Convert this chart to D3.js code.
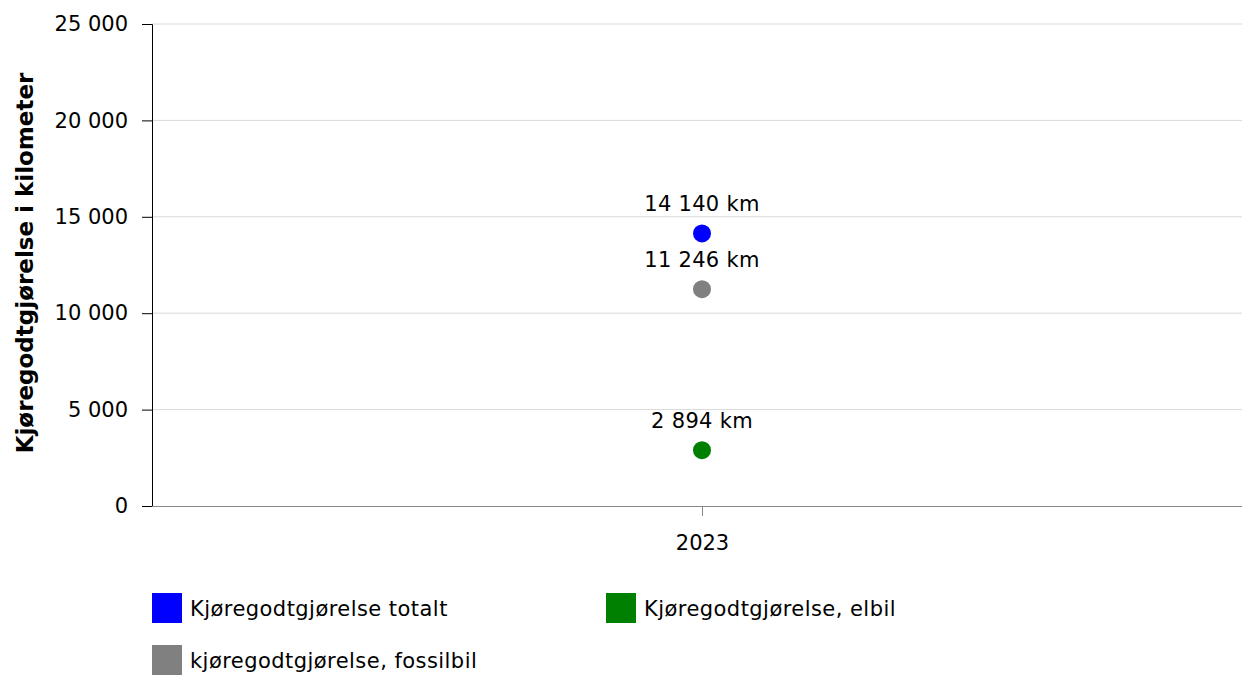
<!DOCTYPE html>
<html>
<head>
<meta charset="utf-8">
<script src="https://cdn.jsdelivr.net/npm/d3@7"></script>
<style>
  body { margin: 0; background: #fff; }
  svg { font-family: "DejaVu Sans", Verdana, sans-serif; }
</style>
</head>
<body>
<svg id="chart" width="1242" height="675"></svg>
<script>
// data
const years = ['2023'];
const seriesNames = ['Kjøregodtgjørelse totalt', 'Kjøregodtgjørelse, elbil', 'kjøregodtgjørelse, fossilbil'];
const seriesColors = ['#0000ff', '#008000', '#808080'];
const seriesValues = [[14140], [2894], [11246]];
const yTicks = [0, 5000, 10000, 15000, 20000, 25000];

const FONT = '"DejaVu Sans", Verdana, sans-serif';
const FS = 21;

const svg = d3.select('#chart');
const margin = { top: 24, right: -10, bottom: 169, left: 152 };
const width = 1242 - margin.left - margin.right;
const height = 675 - margin.top - margin.bottom;

const fmt = v => d3.format(',')(v).replace(/,/g, ' ');

const x = d3.scalePoint().domain(years).range([0, width]).padding(0.5);
const y = d3.scaleLinear().domain([0, 25000]).range([height, 0]);

const g = svg.append('g').attr('transform', `translate(${margin.left},${margin.top})`);

// gridlines
g.append('g')
  .selectAll('line')
  .data(yTicks.filter(d => d > 0))
  .join('line')
  .attr('x1', 0).attr('x2', width)
  .attr('y1', d => y(d)).attr('y2', d => y(d))
  .attr('stroke', '#d9d9d9').attr('stroke-width', 1);

// y axis
const yAxis = g.append('g')
  .call(d3.axisLeft(y).tickValues(yTicks).tickFormat(fmt).tickSize(10).tickPadding(14));
yAxis.select('.domain').attr('stroke', '#000').attr('d', `M-10,0.5H0.5V${height}`);
yAxis.selectAll('.tick line').attr('stroke', '#000');
yAxis.selectAll('text').attr('font-size', FS).attr('fill', '#000').attr('font-family', FONT);

// x axis
const xAxis = g.append('g')
  .attr('transform', `translate(0,${height})`)
  .call(d3.axisBottom(x).tickSize(10).tickPadding(19));
xAxis.select('.domain').attr('stroke', '#888').attr('d', `M0,0.5H${width}`);
xAxis.selectAll('.tick line').attr('stroke', '#888');
xAxis.selectAll('text').attr('font-size', FS).attr('fill', '#000').attr('font-family', FONT);

// y axis title
svg.append('text')
  .attr('transform', `translate(33,${margin.top + height / 2 - 2}) rotate(-90)`)
  .attr('text-anchor', 'middle')
  .attr('font-size', 23)
  .attr('font-weight', 'bold')
  .text('Kjøregodtgjørelse i kilometer');

// points and labels
seriesNames.forEach((name, i) => {
  const pts = years.map((yr, j) => ({ yr, v: seriesValues[i][j] }));
  const s = g.append('g');
  s.selectAll('circle')
    .data(pts)
    .join('circle')
    .attr('cx', d => x(d.yr))
    .attr('cy', d => y(d.v))
    .attr('r', 9)
    .attr('fill', seriesColors[i]);
  s.selectAll('text')
    .data(pts)
    .join('text')
    .attr('x', d => x(d.yr))
    .attr('y', d => y(d.v) - 22)
    .attr('text-anchor', 'middle')
    .attr('font-size', FS)
    .attr('letter-spacing', 0.3)
    .text(d => fmt(d.v) + ' km');
});

// legend
const legendPos = [[152, 593], [606, 593], [152, 645]];
const legend = svg.append('g');
seriesNames.forEach((name, i) => {
  const [lx, ly] = legendPos[i];
  legend.append('rect')
    .attr('x', lx).attr('y', ly)
    .attr('width', 30).attr('height', 30)
    .attr('fill', seriesColors[i]);
  legend.append('text')
    .attr('x', lx + 38).attr('y', ly + 23)
    .attr('font-size', FS)
    .attr('letter-spacing', 0.45)
    .text(name);
});
</script>
</body>
</html>
